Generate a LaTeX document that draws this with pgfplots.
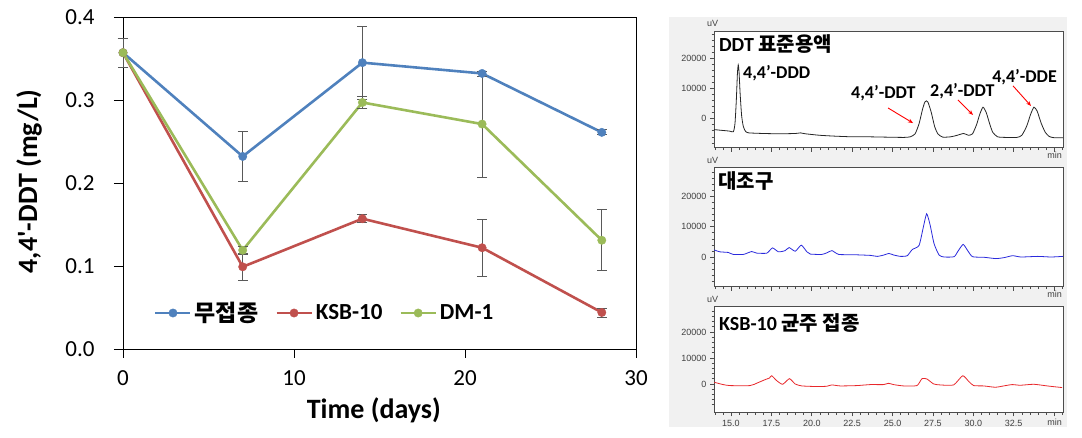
\documentclass[border=0pt]{standalone}
\usepackage{fontspec}
\setmainfont{Carlito}
\newfontfamily\kr{Noto Sans CJK KR}
\newfontfamily\lsans{Liberation Sans}
\usepackage{pgfplots}
\pgfplotsset{compat=1.18}
\usetikzlibrary{arrows.meta}
\definecolor{exblue}{HTML}{4F81BD}
\definecolor{exred}{HTML}{C0504D}
\definecolor{exgreen}{HTML}{9BBB59}
\definecolor{panelbg}{HTML}{F1F1F1}
\definecolor{chblue}{HTML}{2A2ADC}
\definecolor{chred}{HTML}{E8282C}
\pgfplotsset{
  chrom/.style={
    anchor=south west, width=349pt, scale only axis, xmin=13.95, xmax=35.55, clip=false,
    axis background/.style={fill=white},
    axis line style={draw=black!70, line width=0.7pt},
    tick align=outside, tick pos=left, major tick length=4pt, minor tick length=2.5pt,
    tick style={draw=black!70, line width=0.6pt},
    minor tick style={draw=black!70, line width=0.6pt},
    scaled x ticks=false, scaled y ticks=false,
    xtick={15,17.5,20,22.5,25,27.5,30,32.5,35}, minor xtick={14,14.5,...,35.5},
    ytick={0,10000,20000}, yticklabels={0,10000,20000}, minor ytick={-8000,-6000,...,28000},
    tick label style={font=\lsans\fontsize{9}{10}\selectfont, text=black!75},
    xticklabels={,,,,,,,,},
  },
  errs/.style={error bars/.cd, y dir=both, y explicit,
    error bar style={line width=0.8pt, draw=black!65},
    error mark options={rotate=90, mark size=5pt, line width=0.8pt, draw=black!65}},
}
\begin{document}
\begin{tikzpicture}[x=1pt,y=1pt]
\useasboundingbox (0,0) rectangle (1082,438);
\fill[panelbg] (669,11) rectangle (1067,421);

\begin{axis}[
  at={(123pt,89pt)}, anchor=south west, width=513pt, height=332pt, scale only axis,
  xmin=0, xmax=30, ymin=0, ymax=0.4, clip=false,
  xtick={0,10,20,30}, ytick={0,0.1,0.2,0.3,0.4},
  tick align=outside, tick pos=left, major tick length=9pt,
  axis line style={line width=0.9pt},
  tick style={black, line width=0.9pt},
  /pgf/number format/assume math mode=true,
  yticklabel style={/pgf/number format/fixed, /pgf/number format/fixed zerofill, /pgf/number format/precision=1, xshift=-16pt},
  xticklabel style={yshift=-9pt},
  tick label style={font=\fontsize{23}{27}\selectfont},
  xlabel={Time (days)}, ylabel={4,4\textquotesingle-DDT (mg/L)},
  label style={font=\bfseries\fontsize{28}{33}\selectfont},
  xlabel style={at={(axis description cs:0.489,-0.184)}, anchor=center},
  ylabel style={at={(axis description cs:-0.183,0.505)}, anchor=center},
  legend columns=3,
  legend style={at={(axis description cs:0.0604,0.1084)}, anchor=west, draw=none, fill=none, inner sep=0pt,
    font=\bfseries\fontsize{23}{27}\selectfont, nodes={inner sep=0pt},
    /tikz/every odd column/.style={column sep=3pt}, /tikz/every even column/.style={column sep=17pt}},
  legend image code/.code={\draw[mark repeat=2,mark phase=2,#1] plot coordinates {(0pt,0pt) (17.5pt,0pt) (35pt,0pt)};},
]
\addplot[color=exblue, line width=2.6pt, mark=*, mark size=4.2pt, mark options={solid, fill=exblue, line width=0.4pt}, errs]
  coordinates {(0,0.357) +- (0,0.0175) (7,0.232) +- (0,0.030) (14,0.345) +- (0,0.044) (21,0.332) +- (0,0.003) (28,0.261) +- (0,0.003)};
\addlegendentry{{\kr 무접종}}
\addplot[color=exred, line width=2.6pt, mark=*, mark size=4.2pt, mark options={solid, fill=exred, line width=0.4pt}, errs]
  coordinates {(0,0.357) +- (0,0.0175) (7,0.099) +- (0,0.0165) (14,0.157) +- (0,0.005) (21,0.122) +- (0,0.034) (28,0.044) +- (0,0.0055)};
\addlegendentry{KSB-10}
\addplot[color=exgreen, line width=2.6pt, mark=*, mark size=4.2pt, mark options={solid, fill=exgreen, line width=0.4pt}, errs]
  coordinates {(0,0.357) +- (0,0.0175) (7,0.119) +- (0,0.005) (14,0.297) +- (0,0.007) (21,0.271) +- (0,0.064) (28,0.131) +- (0,0.0367)};
\addlegendentry{DM-1}
\end{axis}

% Panel 1: standard
\begin{axis}[chrom, at={(714pt,290.3pt)}, height=116.7pt, ymin=-9600, ymax=29000]
\addplot[black!85, line width=0.8pt, smooth, tension=0.35] coordinates {
(13.95,-3600) (14.3,-3800) (14.9,-4100) (15.15,-4300) (15.25,-1500) (15.33,6000) (15.40,15000) (15.45,17800)
(15.50,15500) (15.57,8000) (15.66,1000) (15.76,-2500) (15.90,-4200) (16.10,-4700) (17.0,-4900) (18.0,-5000)
(19.0,-4900) (19.3,-4700) (19.6,-5000) (20.5,-5500) (21.5,-5800) (22.5,-6000) (23.5,-6000) (24.5,-6100)
(25.7,-6200) (26.1,-6000) (26.4,-5000) (26.65,-1500) (26.85,3000) (27.0,5500) (27.1,5900) (27.2,5400)
(27.4,2000) (27.6,-2500) (27.8,-5000) (28.1,-6100) (28.6,-6000) (29.0,-5500) (29.4,-4900) (29.7,-5500)
(29.95,-5000) (30.2,-2000) (30.4,1500) (30.6,3800) (30.8,2000) (31.0,-1500) (31.2,-4500) (31.5,-6000)
(32.0,-6200) (32.7,-6200) (33.0,-5500) (33.3,-2500) (33.55,1500) (33.75,3800) (33.95,2500) (34.2,-1500)
(34.45,-4500) (34.7,-5900) (35.0,-6300) (35.55,-6300)};
\node[anchor=west, inner sep=0pt, font=\bfseries\fontsize{20}{24}\selectfont] at (rel axis cs:0.014,0.889) {DDT {\kr 표준용액}};
\node[anchor=base, xshift=-1.5pt, yshift=4pt, inner sep=0pt, font=\lsans\fontsize{9}{10}\selectfont, text=black!75] at (rel axis cs:0,1) {uV};
\node[anchor=north east, xshift=-1pt, yshift=-4pt, inner sep=0pt, font=\lsans\fontsize{9}{10}\selectfont, text=black!75] at (rel axis cs:1,0) {min};
\node[anchor=west, inner sep=0pt, font=\bfseries\fontsize{18}{21}\selectfont] at (axis cs:15.74,15130) {4,4’-DDD};
\node[anchor=west, inner sep=0pt, font=\bfseries\fontsize{18}{21}\selectfont] at (axis cs:22.43,8510) {4,4’-DDT};
\node[anchor=west, inner sep=0pt, font=\bfseries\fontsize{18}{21}\selectfont] at (axis cs:27.32,9170) {2,4’-DDT};
\node[anchor=west, inner sep=0pt, font=\bfseries\fontsize{18}{21}\selectfont] at (axis cs:31.16,13810) {4,4’-DDE};
\draw[-{Stealth[length=5pt,width=4pt]}, red, line width=0.9pt] (axis cs:24.72,3540) -- (axis cs:26.27,-1460);
\draw[-{Stealth[length=5pt,width=4pt]}, red, line width=0.9pt] (axis cs:29.05,6190) -- (axis cs:29.98,1220);
\draw[-{Stealth[length=5pt,width=4pt]}, red, line width=0.9pt] (axis cs:32.46,10830) -- (axis cs:33.57,4200);
\end{axis}

% Panel 2: control
\begin{axis}[chrom, at={(714pt,151.3pt)}, height=119.4pt, ymin=-9800, ymax=29600]
\addplot[chblue, line width=0.8pt, smooth, tension=0.35] coordinates {
(13.96,2340) (14.32,1700) (14.83,1500) (15.14,850) (15.77,850) (16.28,1800) (16.59,1280) (17.22,1280)
(17.57,3000) (17.94,1700) (18.35,2100) (18.60,3100) (18.98,1900) (19.35,3900) (19.70,1700) (19.91,960)
(20.63,850) (20.94,1400) (21.25,2100) (21.67,850) (22.60,750) (23.63,530) (24.05,200) (24.46,640)
(24.77,1170) (25.08,640) (25.50,200) (25.91,430) (26.22,2450) (26.64,3800) (26.90,9700) (27.11,14250)
(27.32,10700) (27.57,4400) (27.88,640) (28.19,0) (28.81,100) (29.06,2000) (29.37,4150) (29.64,2200)
(29.95,100) (30.67,-100) (31.40,-530) (31.91,-200) (32.43,430) (32.95,0) (33.99,200) (34.81,0) (35.54,200)};
\node[anchor=west, inner sep=0pt, font=\bfseries\fontsize{20}{24}\selectfont] at (rel axis cs:0.012,0.882) {\kr 대조구};
\node[anchor=base, xshift=-1.5pt, yshift=4pt, inner sep=0pt, font=\lsans\fontsize{9}{10}\selectfont, text=black!75] at (rel axis cs:0,1) {uV};
\node[anchor=north east, xshift=-1pt, yshift=-4pt, inner sep=0pt, font=\lsans\fontsize{9}{10}\selectfont, text=black!75] at (rel axis cs:1,0) {min};
\end{axis}

% Panel 3: KSB-10 inoculated
\begin{axis}[chrom, at={(714pt,25.7pt)}, height=105.6pt, ymin=-10900, ymax=29700,
  xticklabels={15.0,17.5,20.0,22.5,25.0,27.5,30.0,32.5,{}}]
\addplot[chred, line width=0.8pt, smooth, tension=0.35] coordinates {
(13.97,630) (14.52,-250) (14.94,-630) (16.18,-630) (16.63,380) (17.11,1650) (17.38,2280) (17.52,3160)
(17.83,1270) (18.20,-130) (18.62,2030) (18.97,0) (19.38,-760) (20.31,-1000) (20.93,-890) (21.24,-380)
(21.76,-760) (22.79,-630) (23.62,-250) (24.44,-250) (24.75,250) (25.06,-250) (25.68,-760) (26.51,-630)
(26.82,2030) (27.13,1900) (27.54,0) (27.95,-380) (28.78,-380) (29.34,3160) (29.71,1000) (30.02,-630)
(30.64,-760) (31.36,-1270) (31.88,-760) (32.40,-250) (32.91,-500) (33.74,-130) (34.57,-760) (35.50,-1400)};
\node[anchor=west, inner sep=0pt, font=\bfseries\fontsize{20}{24}\selectfont] at (rel axis cs:0.014,0.846) {KSB-10 {\kr 균주 접종}};
\node[anchor=base, xshift=-1.5pt, yshift=4pt, inner sep=0pt, font=\lsans\fontsize{9}{10}\selectfont, text=black!75] at (rel axis cs:0,1) {uV};
\node[anchor=north east, xshift=-1pt, yshift=-6pt, inner sep=0pt, font=\lsans\fontsize{9}{10}\selectfont, text=black!75] at (rel axis cs:1,0) {min};
\end{axis}
\end{tikzpicture}
\end{document}
